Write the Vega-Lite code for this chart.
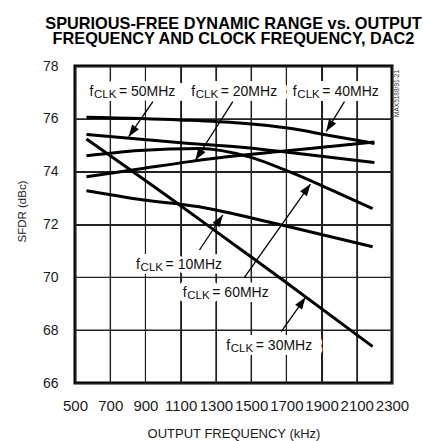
{
  "$schema": "https://vega.github.io/schema/vega-lite/v6.json",
  "width": 317,
  "height": 317,
  "autosize": "none",
  "padding": {"left": 75, "top": 66, "right": 31, "bottom": 58},
  "background": "white",
  "config": {
    "view": {"stroke": "black", "strokeWidth": 3},
    "font": "Liberation Sans",
    "numberFormat": "d",
    "axis": {
      "grid": true, "gridColor": "#222", "gridOpacity": 1, "gridWidth": 1.1,
      "ticks": false, "tickSize": 0, "domain": false,
      "labelColor": "#1a1a1a", "titleColor": "#1a1a1a", "titleFontWeight": "normal",
      "labelFont": "Liberation Sans", "titleFont": "Liberation Sans",
      "labelFlush": false, "labelOverlap": false
    }
  },
  "title": {
    "text": ["SPURIOUS-FREE DYNAMIC RANGE vs. OUTPUT", "FREQUENCY AND CLOCK FREQUENCY, DAC2"],
    "font": "Liberation Sans", "fontSize": 16.3, "fontWeight": "bold", "color": "black",
    "lineHeight": 15, "offset": -4, "baseline": "bottom", "anchor": "middle", "frame": "group"
  },
  "datasets": {
    "gridv": [
      {"f": 700, "db": 66, "db2": 78}, {"f": 900, "db": 66, "db2": 78}, {"f": 1100, "db": 66, "db2": 78}, {"f": 1300, "db": 66, "db2": 78},
      {"f": 1500, "db": 66, "db2": 78}, {"f": 1700, "db": 66, "db2": 78}, {"f": 1900, "db": 66, "db2": 78}, {"f": 2100, "db": 66, "db2": 78}
    ],
    "gridh": [
      {"f": 500, "f2": 2300, "db": 68}, {"f": 500, "f2": 2300, "db": 70}, {"f": 500, "f2": 2300, "db": 72},
      {"f": 500, "f2": 2300, "db": 74}, {"f": 500, "f2": 2300, "db": 76}
    ],
    "curves": [
      {"clk": "40MHz", "f": 565, "db": 76.06}, {"clk": "40MHz", "f": 1094, "db": 75.96}, {"clk": "40MHz", "f": 1434, "db": 75.84}, {"clk": "40MHz", "f": 1718, "db": 75.64}, {"clk": "40MHz", "f": 1945, "db": 75.37}, {"clk": "40MHz", "f": 2200, "db": 75.07},
      {"clk": "50MHz", "f": 565, "db": 75.41}, {"clk": "50MHz", "f": 1150, "db": 75.07}, {"clk": "50MHz", "f": 1430, "db": 74.93}, {"clk": "50MHz", "f": 1660, "db": 74.77}, {"clk": "50MHz", "f": 2200, "db": 74.35},
      {"clk": "60MHz", "f": 565, "db": 74.6}, {"clk": "60MHz", "f": 865, "db": 74.8}, {"clk": "60MHz", "f": 1205, "db": 74.88}, {"clk": "60MHz", "f": 1490, "db": 74.56}, {"clk": "60MHz", "f": 1720, "db": 73.99}, {"clk": "60MHz", "f": 1945, "db": 73.34}, {"clk": "60MHz", "f": 2190, "db": 72.6},
      {"clk": "20MHz", "f": 565, "db": 73.81}, {"clk": "20MHz", "f": 865, "db": 74.1}, {"clk": "20MHz", "f": 1150, "db": 74.38}, {"clk": "20MHz", "f": 1430, "db": 74.61}, {"clk": "20MHz", "f": 1660, "db": 74.76}, {"clk": "20MHz", "f": 1945, "db": 74.95}, {"clk": "20MHz", "f": 2200, "db": 75.12},
      {"clk": "10MHz", "f": 565, "db": 73.28}, {"clk": "10MHz", "f": 890, "db": 72.93}, {"clk": "10MHz", "f": 1205, "db": 72.67}, {"clk": "10MHz", "f": 1430, "db": 72.36}, {"clk": "10MHz", "f": 1680, "db": 71.97}, {"clk": "10MHz", "f": 2190, "db": 71.16},
      {"clk": "30MHz", "f": 565, "db": 75.24}, {"clk": "30MHz", "f": 1055, "db": 72.93}, {"clk": "30MHz", "f": 1430, "db": 71.11}, {"clk": "30MHz", "f": 1680, "db": 69.9}, {"clk": "30MHz", "f": 2190, "db": 67.38}
    ],
    "labels": [
      {"f": 582, "db": 76.864, "full": "fCLK = 50MHz", "rest": "= 50MHz"},
      {"f": 1160, "db": 76.864, "full": "fCLK = 20MHz", "rest": "= 20MHz"},
      {"f": 1737, "db": 76.864, "full": "fCLK = 40MHz", "rest": "= 40MHz"},
      {"f": 847, "db": 70.304, "full": "fCLK = 10MHz", "rest": "= 10MHz"},
      {"f": 1112, "db": 69.267, "full": "fCLK = 60MHz", "rest": "= 60MHz"},
      {"f": 1359, "db": 67.249, "full": "fCLK = 30MHz", "rest": "= 30MHz"}
    ],
    "arrows": [
      {"clk": "50MHz", "f": 805, "db": 75.324, "f2": 942, "db2": 76.649, "ang": 214.4},
      {"clk": "20MHz", "f": 1184, "db": 74.442, "f2": 1396, "db2": 76.649, "ang": 212.6},
      {"clk": "40MHz", "f": 1926, "db": 75.52, "f2": 2030, "db2": 76.649, "ang": 212.3},
      {"clk": "10MHz", "f": 1339, "db": 72.36, "f2": 1207, "db2": 71.035, "ang": 33.7},
      {"clk": "60MHz", "f": 1837, "db": 73.533, "f2": 1462, "db2": 70.0, "ang": 35.3},
      {"clk": "30MHz", "f": 1809, "db": 69.244, "f2": 1671, "db2": 67.942, "ang": 35.2}
    ],
    "note": [{"f": 2300, "db": 77.85, "t": "MAX5188/91-21"}]
  },
  "encoding": {
    "x": {
      "field": "f", "type": "quantitative",
      "scale": {"domain": [500, 2300], "nice": false, "zero": false},
      "axis": {
        "values": [500, 700, 900, 1100, 1300, 1500, 1700, 1900, 2100, 2300],
        "title": "OUTPUT FREQUENCY (kHz)", "labelFontSize": 15, "labelPadding": 15,
        "titleFontSize": 13, "titleY": 54, "titleBaseline": "alphabetic"
      }
    },
    "y": {
      "field": "db", "type": "quantitative",
      "scale": {"domain": [66, 78], "nice": false, "zero": false},
      "axis": {
        "values": [66, 68, 70, 72, 74, 76, 78],
        "title": "SFDR (dBc)", "labelFontSize": 14, "labelPadding": 17,
        "titleFontSize": 11.5, "titleX": -50, "titleY": 145, "titleBaseline": "alphabetic", "titleAngle": 270
      }
    }
  },
  "layer": [
    {
      "data": {"name": "gridv"},
      "mark": {"type": "rule", "color": "#222", "strokeWidth": 1.1},
      "encoding": {"y2": {"field": "db2"}}
    },
    {
      "data": {"name": "gridh"},
      "mark": {"type": "rule", "color": "#222", "strokeWidth": 1.1},
      "encoding": {"x2": {"field": "f2"}}
    },
    {
      "data": {"name": "labels"},
      "mark": {"type": "text", "align": "left", "baseline": "alphabetic", "fontSize": 14, "fill": "white", "stroke": "white", "strokeWidth": 10, "strokeJoin": "round"},
      "encoding": {"text": {"field": "full"}}
    },
    {
      "data": {"name": "curves"},
      "mark": {"type": "line", "color": "black", "strokeWidth": 3, "interpolate": "monotone"},
      "encoding": {"detail": {"field": "clk"}}
    },
    {
      "data": {"name": "arrows"},
      "mark": {"type": "rule", "color": "black", "strokeWidth": 1.3},
      "encoding": {"x2": {"field": "f2"}, "y2": {"field": "db2"}}
    },
    {
      "data": {"name": "arrows"},
      "mark": {"type": "point", "shape": "M0,0L-0.35,1L0.35,1Z", "filled": true, "color": "black", "opacity": 1, "size": 576, "strokeWidth": 0},
      "encoding": {"angle": {"field": "ang", "type": "quantitative", "scale": null}}
    },
    {
      "data": {"name": "labels"},
      "mark": {"type": "text", "align": "left", "baseline": "alphabetic", "fontSize": 14, "color": "#111", "text": "f"}
    },
    {
      "data": {"name": "labels"},
      "mark": {"type": "text", "align": "left", "baseline": "alphabetic", "fontSize": 11.5, "color": "#111", "text": "CLK", "dx": 4.5, "dy": 2}
    },
    {
      "data": {"name": "labels"},
      "mark": {"type": "text", "align": "left", "baseline": "alphabetic", "fontSize": 14, "color": "#111", "dx": 29.5},
      "encoding": {"text": {"field": "rest"}}
    },
    {
      "data": {"name": "note"},
      "mark": {"type": "text", "align": "right", "baseline": "top", "angle": 270, "fontSize": 6.5, "color": "#333", "xOffset": 1.5},
      "encoding": {"text": {"field": "t"}}
    }
  ]
}
